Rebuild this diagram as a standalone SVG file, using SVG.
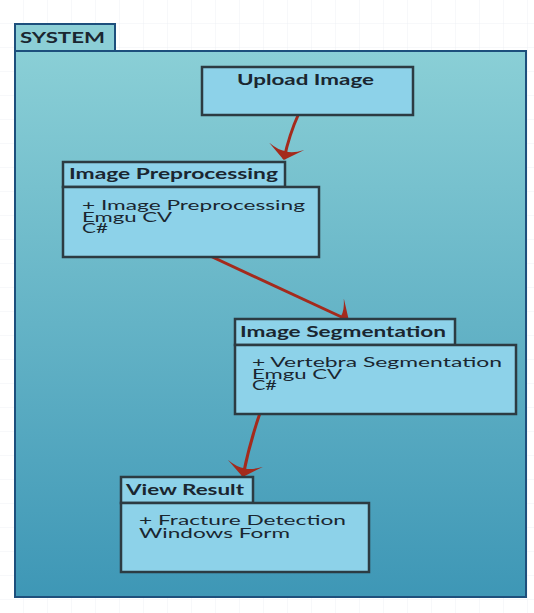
<svg xmlns="http://www.w3.org/2000/svg" width="534" height="613" viewBox="0 0 534 613">
  <defs>
    <linearGradient id="frameFill" x1="0" y1="0" x2="0" y2="1">
      <stop offset="0" stop-color="#8acfd6"/>
      <stop offset="1" stop-color="#3e97b6"/>
    </linearGradient>
    <pattern id="grid" width="24" height="24" patternUnits="userSpaceOnUse">
      <path d="M24 0V24M0 24H24" fill="none" stroke="#eef1f4" stroke-width="1"/>
    </pattern>
    <marker id="head" viewBox="0 0 14 38" refX="13" refY="19" markerWidth="14" markerHeight="38" markerUnits="userSpaceOnUse" orient="auto">
      <path d="M14 19 L0 1 Q6 12 5 19 Q6 26 0 37 Z" fill="#a42a1c"/>
    </marker>
  </defs>
  <style>
    .box { fill: #8dd2e9; stroke: #2c3b42; stroke-width: 2.5; }
    .title { font-family: Lato, "Liberation Sans", sans-serif; font-weight: bold; font-size: 14.5px; fill: #1a2630; }
    .body { font-family: Lato, "Liberation Sans", sans-serif; font-size: 13px; fill: #1a2630; }
    .link { fill: none; stroke: #a42a1c; stroke-width: 3; marker-end: url(#head); }
  </style>

  <rect width="534" height="613" fill="#ffffff"/>
  <rect width="534" height="613" fill="url(#grid)"/>

  <!-- package frame -->
  <g id="system">
    <rect x="15" y="51" width="511" height="546" fill="url(#frameFill)" stroke="#1d4f7c" stroke-width="2"/>
    <rect x="15" y="24" width="100" height="27" fill="#8ccfd6" stroke="#1d4f7c" stroke-width="2"/>
    <text x="20" y="43" class="title" textLength="85" lengthAdjust="spacingAndGlyphs">SYSTEM</text>
  </g>

  <!-- flow arrows sit under the boxes -->
  <g id="connectors">
    <path class="link" d="M299 113 Q289 135 284 159"/>
    <path class="link" d="M208 255 L348 320"/>
    <path class="link" d="M260 413 Q249 445 243 476"/>
  </g>

  <g id="upload-image">
    <rect x="202" y="67" width="211" height="48" class="box"/>
    <text x="237" y="85" class="title" textLength="137" lengthAdjust="spacingAndGlyphs">Upload Image</text>
  </g>

  <g id="image-preprocessing">
    <rect x="63" y="162" width="222" height="25" class="box"/>
    <rect x="63" y="187" width="256" height="70" class="box"/>
    <text x="69" y="179" class="title" textLength="209" lengthAdjust="spacingAndGlyphs">Image Preprocessing</text>
    <text x="82" y="210" class="body" textLength="223" lengthAdjust="spacingAndGlyphs">+ Image Preprocessing</text>
    <text x="82" y="222" class="body" textLength="90" lengthAdjust="spacingAndGlyphs">Emgu CV</text>
    <text x="82" y="233" class="body" textLength="26" lengthAdjust="spacingAndGlyphs">C#</text>
  </g>

  <g id="image-segmentation">
    <rect x="235" y="319" width="220" height="26" class="box"/>
    <rect x="235" y="345" width="281" height="69" class="box"/>
    <text x="240" y="337" class="title" textLength="206" lengthAdjust="spacingAndGlyphs">Image Segmentation</text>
    <text x="252" y="367" class="body" textLength="250" lengthAdjust="spacingAndGlyphs">+ Vertebra Segmentation</text>
    <text x="252" y="379" class="body" textLength="90" lengthAdjust="spacingAndGlyphs">Emgu CV</text>
    <text x="252" y="390" class="body" textLength="25" lengthAdjust="spacingAndGlyphs">C#</text>
  </g>

  <g id="view-result">
    <rect x="121" y="477" width="132" height="26" class="box"/>
    <rect x="121" y="503" width="248" height="69" class="box"/>
    <text x="126" y="495" class="title" textLength="118" lengthAdjust="spacingAndGlyphs">View Result</text>
    <text x="139" y="525" class="body" textLength="207" lengthAdjust="spacingAndGlyphs">+ Fracture Detection</text>
    <text x="139" y="538" class="body" textLength="151" lengthAdjust="spacingAndGlyphs">Windows Form</text>
  </g>
</svg>
